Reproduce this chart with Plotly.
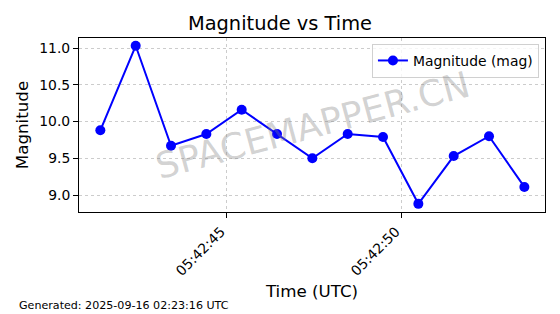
import plotly.graph_objects as go

times = ["2025-09-16 05:42:41.38", "2025-09-16 05:42:42.39", "2025-09-16 05:42:43.40",
         "2025-09-16 05:42:44.41", "2025-09-16 05:42:45.42", "2025-09-16 05:42:46.43",
         "2025-09-16 05:42:47.44", "2025-09-16 05:42:48.45", "2025-09-16 05:42:49.46",
         "2025-09-16 05:42:50.47", "2025-09-16 05:42:51.48", "2025-09-16 05:42:52.49",
         "2025-09-16 05:42:53.50"]
magnitude = [9.88, 11.03, 9.67, 9.83, 10.16, 9.83, 9.50, 9.83, 9.79, 8.88, 9.53, 9.80, 9.11]
tick_vals = ["2025-09-16 05:42:45", "2025-09-16 05:42:50"]
tick_text = ["05:42:45", "05:42:50"]

FONT = "DejaVu Sans"

fig = go.Figure()
fig.add_trace(go.Scatter(
    x=times, y=magnitude, mode="lines+markers", name="Magnitude (mag)",
    line=dict(color="#0000ff", width=2),
    marker=dict(color="#0000ff", size=10),
))

fig.update_layout(
    width=560, height=314,
    margin=dict(l=79, r=15, t=38, b=102),
    paper_bgcolor="white", plot_bgcolor="white",
    font=dict(family=FONT, color="black", size=13.9),
    title=dict(text="Magnitude vs Time", x=0.5, xanchor="center", y=0.925, yanchor="middle",
               font=dict(size=19.4, family=FONT)),
    showlegend=True,
    legend=dict(x=0.987, y=0.966, xanchor="right", yanchor="top",
                bordercolor="#d0d0d0", borderwidth=1, bgcolor="rgba(255,255,255,0.8)",
                font=dict(size=13.9, family=FONT)),
)
fig.update_xaxes(
    range=["2025-09-16 05:42:40.77", "2025-09-16 05:42:54.09"],
    tickvals=tick_vals, ticktext=tick_text, tickangle=-45,
    ticklabelshift=-6,
    showline=True, linecolor="black", linewidth=1, mirror=True,
    ticks="outside", ticklen=5, tickcolor="black",
    showgrid=True, gridcolor="#cccccc", griddash="3px,3px", gridwidth=1,
    title=dict(text="Time (UTC)", font=dict(size=16.7, family=FONT), standoff=7),
    tickfont=dict(size=13.9, family=FONT),
)
fig.update_yaxes(
    range=[8.769, 11.136],
    tickvals=[9.0, 9.5, 10.0, 10.5, 11.0], ticktext=["9.0", "9.5", "10.0", "10.5", "11.0"],
    showline=True, linecolor="black", linewidth=1, mirror=True,
    ticks="outside", ticklen=5, tickcolor="black",
    showgrid=True, gridcolor="#cccccc", griddash="3px,3px", gridwidth=1,
    zeroline=False,
    title=dict(text="Magnitude", font=dict(size=16.7, family=FONT), standoff=6),
    tickfont=dict(size=13.9, family=FONT),
)

fig.add_annotation(
    text="SPACEMAPPER.CN", xref="paper", yref="paper", x=0.5, y=0.5,
    showarrow=False, textangle=-15,
    font=dict(size=36, color="rgba(128,128,128,0.36)", family=FONT),
)
fig.add_annotation(
    text="Generated: 2025-09-16 02:23:16 UTC", xref="paper", yref="paper",
    x=(17 - 79) / 466, y=(212 - 305) / 174, xanchor="left", yanchor="middle", showarrow=False,
    font=dict(size=11.1, family=FONT),
)

fig.write_html("out.html")
